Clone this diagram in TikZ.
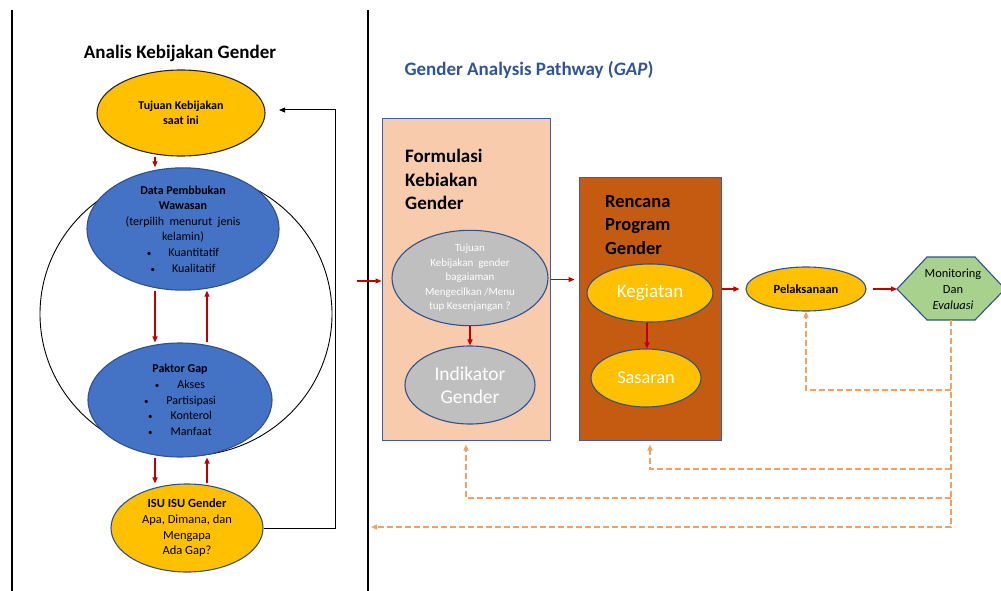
\documentclass[tikz,border=0pt]{standalone}
\usepackage{fontspec}
\setmainfont{Carlito}
\usetikzlibrary{shapes.geometric,arrows.meta,calc}
\definecolor{goldfill}{HTML}{FFC000}
\definecolor{bluefill}{HTML}{4472C4}
\definecolor{blueline}{HTML}{2F528F}
\definecolor{grayfill}{HTML}{BFBFBF}
\definecolor{peach}{HTML}{F8CBAD}
\definecolor{rust}{HTML}{C55A11}
\definecolor{sage}{HTML}{A9D18E}
\definecolor{arrowred}{HTML}{C00000}
\definecolor{fborange}{HTML}{F4A061}
\definecolor{titleblue}{HTML}{2F5597}
\begin{document}
\begin{tikzpicture}[x=1pt,y=-1pt,
  oval/.style={ellipse, draw=blueline, line width=1.1pt, inner sep=0pt, align=center},
  panel/.style={rectangle, draw=blueline!60!bluefill, line width=1pt, inner sep=0pt},
  panellabel/.style={anchor=north west, align=left, inner sep=0pt,
    font=\fontsize{19}{23.5}\selectfont\bfseries},
  redarrow/.style={draw=arrowred, line width=1.2pt, -{Triangle[length=6pt,width=5pt]}},
  returnarrow/.style={draw=black, line width=1pt, -{Triangle[length=6pt,width=5pt]}},
  feedback/.style={draw=fborange, line width=1.4pt, dash pattern=on 6pt off 3pt,
    -{Triangle[length=6pt,width=5pt]}},
  divider/.style={draw=black, line width=1.3pt}
]
\useasboundingbox (0,0) rectangle (1001,591);

% column dividers
\draw[divider] (12,10) -- (12,591);
\draw[divider] (368,10) -- (368,591);

% ---------- left column: policy analysis ----------
\node[font=\fontsize{19}{22}\selectfont\bfseries] (lefttitle) at (180,53) {Analis Kebijakan Gender};

\node[oval, fill=goldfill, draw=black!85, minimum width=168pt, minimum height=86pt,
  font=\fontsize{12}{15.5}\selectfont\bfseries] (tujuan) at (181,113) {Tujuan Kebijakan\\saat ini};

\node[ellipse, draw=black, line width=0.9pt, inner sep=0pt,
  minimum width=292pt, minimum height=284pt] (lingkar) at (186,314) {};

\node[oval, fill=bluefill, minimum width=192pt, minimum height=108pt,
  font=\fontsize{12}{15.6}\selectfont] (data) at (183,229)
  {\textbf{Data Pembbukan}\\\textbf{Wawasan}\\(terpilih\ \ menurut\ \ jenis\\kelamin)\\
   {\small\textbullet}\hspace{17pt}Kuantitatif\\{\small\textbullet}\hspace{17pt}Kualitatif};

\node[oval, fill=bluefill, minimum width=184pt, minimum height=114pt,
  font=\fontsize{12}{15.6}\selectfont] (paktor) at (180,400)
  {\textbf{Paktor Gap}\\{\small\textbullet}\hspace{18pt}Akses\\{\small\textbullet}\hspace{18pt}Partisipasi\\
   {\small\textbullet}\hspace{18pt}Konterol\\{\small\textbullet}\hspace{18pt}Manfaat};

\node[oval, fill=goldfill, minimum width=152pt, minimum height=88pt,
  font=\fontsize{12.5}{15.7}\selectfont] (isu) at (187,528)
  {\textbf{ISU ISU Gender}\\Apa, Dimana, dan\\Mengapa\\Ada Gap?};

\coordinate (laneL) at (155,0);
\coordinate (laneR) at (207,0);
\draw[redarrow] (tujuan.south -| laneL) -- (data.north -| laneL);
\draw[redarrow] (data.south -| laneL) -- (paktor.north -| laneL);
\draw[redarrow] (paktor.north -| laneR) -- (data.south -| laneR);
\draw[redarrow] (paktor.south -| laneL) -- (isu.north -| laneL);
\draw[redarrow] (isu.north -| laneR) -- (paktor.south -| laneR);

\coordinate (retcorner) at (335,110);
\coordinate (rettip) at (279,110);
\draw[returnarrow] (isu.east) -| (retcorner) -- (rettip);

% ---------- right column: gender analysis pathway ----------
\node[font=\fontsize{19}{22}\selectfont\bfseries, text=titleblue] (righttitle) at (529,70)
  {Gender Analysis Pathway (\textit{GAP})};

\node[panel, fill=peach, minimum width=168pt, minimum height=321pt] (form) at (466,279.5) {};
\node[panellabel] (formlabel) at (405,149) {Formulasi\\Kebiakan\\Gender};

\node[oval, fill=grayfill, minimum width=156pt, minimum height=88pt, text=white,
  font=\fontsize{11}{14.5}\selectfont] (tujuangender) at (470,278)
  {Tujuan\\Kebijakan\ \ gender\\bagaiaman\\Mengecilkan /Menu\\tup Kesenjangan ?};

\node[oval, fill=grayfill, minimum width=130pt, minimum height=78pt, text=white,
  font=\fontsize{19.5}{23}\selectfont] (indikator) at (470,385) {Indikator\\Gender};

\node[panel, fill=rust, minimum width=142pt, minimum height=263pt] (rencana) at (650,308.5) {};
\node[panellabel, font=\fontsize{18.5}{23.5}\selectfont\bfseries] (rencanalabel) at (605,195)
  {Rencana\\Program\\Gender};

\node[oval, fill=goldfill, minimum width=126pt, minimum height=58pt, text=white,
  font=\fontsize{19}{22}\selectfont] (kegiatan) at (650,293) {Kegiatan};
\node[oval, fill=goldfill, minimum width=110pt, minimum height=58pt, text=white,
  font=\fontsize{18.3}{22}\selectfont] (sasaran) at (646,378) {Sasaran};

\node[oval, fill=goldfill, minimum width=120pt, minimum height=44pt,
  font=\fontsize{12.5}{15}\selectfont\bfseries] (pel) at (806,289) {Pelaksanaan};

% monitoring hexagon
\coordinate (hexW) at (897,289);
\coordinate (hexS) at (951,320);
\draw[fill=sage, draw=blueline, line width=1.1pt]
  (hexW) -- (927,257) -- (975,257) -- (1005,289) -- (975,320) -- (927,320) -- cycle;
\node[align=center, inner sep=0pt, font=\fontsize{12.4}{16}\selectfont] (monev) at (953,289)
  {Monitoring\\Dan\\\textit{Evaluasi}};

% forward flow
\coordinate (instart) at (357,281);
\draw[redarrow] (instart) -- (instart -| form.west);
\draw[redarrow] (form.east) -- ([xshift=-4pt]form.east -| rencana.west);
\draw[redarrow] (tujuangender.south) -- (indikator.north);
\draw[redarrow] (kegiatan.south -| 647,0) -- (sasaran.north -| 647,0);
\draw[redarrow] (pel.west -| rencana.east) -- ([xshift=-6pt]pel.west);
\draw[redarrow] ([xshift=6pt]pel.east) -- (hexW);

% feedback loops from monitoring
\coordinate (tap1) at (951,390);
\coordinate (tap2) at (951,469);
\coordinate (tap3) at (951,498);
\coordinate (fbend) at (371,527);
\draw[feedback] (hexS) |- (fbend);
\draw[feedback] (tap1) -| (pel.south);
\draw[feedback, shorten >=4pt] (tap2) -| (rencana.south);
\draw[feedback, shorten >=4pt] (tap3) -| (form.south);
\end{tikzpicture}
\end{document}
